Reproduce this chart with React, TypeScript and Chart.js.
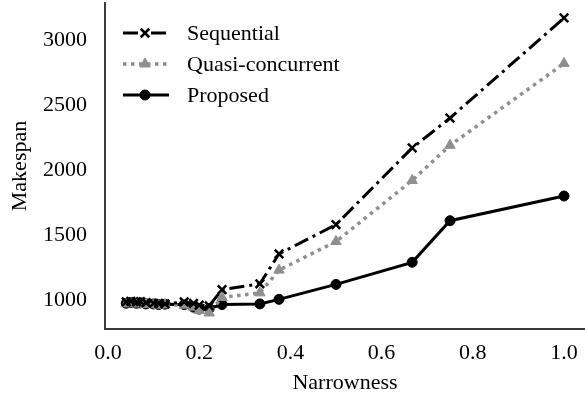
import React, { useEffect, useRef } from 'react';
import { Chart, registerables } from 'chart.js';
import { drawPoint } from 'chart.js/helpers';

Chart.register(...registerables);

const narrowness = [0.04, 0.05, 0.0625, 0.0714, 0.0833, 0.1, 0.111, 0.125, 0.167, 0.1875, 0.2, 0.222, 0.25, 0.333, 0.375, 0.5, 0.667, 0.75, 1.0];
const sequential = [985, 990, 985, 988, 980, 975, 975, 970, 985, 975, 960, 955, 1080, 1125, 1355, 1580, 2170, 2400, 3170];
const quasiConcurrent = [970, 975, 970, 972, 965, 965, 960, 962, 960, 945, 920, 900, 1020, 1055, 1230, 1450, 1920, 2190, 2820];
const proposed = [975, 980, 975, 978, 970, 970, 965, 968, 965, 945, 930, 935, 965, 970, 1005, 1120, 1290, 1610, 1800];
const seriesNames = ['Sequential', 'Quasi-concurrent', 'Proposed'];
const xTickValues = [0, 0.2, 0.4, 0.6, 0.8, 1.0];
const yTickValues = [1000, 1500, 2000, 2500, 3000];

const FONT = '"Liberation Serif", "Times New Roman", serif';
const FS = 22;

const toPoints = (ys: number[]) => narrowness.map((x, i) => ({ x, y: ys[i] }));

const legendPlugin = {
  id: 'insideLegend',
  afterDraw(chart: any) {
    const ctx = chart.ctx;
    const rows = [33, 64, 95];
    const x1 = 123;
    const x2 = 169;
    const mx = 145;
    const tx = 187;
    chart.data.datasets.forEach((ds: any, i: number) => {
      const y = rows[i];
      ctx.save();
      ctx.strokeStyle = ds.borderColor;
      ctx.lineWidth = ds.borderWidth;
      ctx.setLineDash(ds.borderDash || []);
      ctx.beginPath();
      ctx.moveTo(x1, y);
      ctx.lineTo(x2, y);
      ctx.stroke();
      ctx.setLineDash([]);
      ctx.fillStyle = ds.pointBackgroundColor;
      ctx.strokeStyle = ds.pointBorderColor;
      ctx.lineWidth = ds.pointBorderWidth;
      drawPoint(ctx, { pointStyle: ds.pointStyle, radius: ds.pointRadius, rotation: 0, borderWidth: ds.pointBorderWidth }, mx, y);
      ctx.fillStyle = '#000';
      ctx.font = `${FS}px ${FONT}`;
      ctx.textAlign = 'left';
      ctx.textBaseline = 'middle';
      ctx.fillText(seriesNames[i], tx, y + 1);
      ctx.restore();
    });
  },
};

export default function App() {
  const ref = useRef<HTMLCanvasElement | null>(null);
  useEffect(() => {
    document.body.style.margin = '0';
    const canvas = ref.current!;
    const chart = new Chart(canvas, {
      type: 'line',
      data: {
        datasets: [
          {
            label: seriesNames[0],
            data: toPoints(sequential),
            borderColor: '#000',
            borderWidth: 3,
            borderDash: [15, 5, 3, 5],
            pointStyle: 'crossRot',
            pointRadius: 6,
            pointBorderWidth: 2.5,
            pointBorderColor: '#000',
            pointBackgroundColor: '#000',
            fill: false,
          },
          {
            label: seriesNames[1],
            data: toPoints(quasiConcurrent),
            borderColor: '#8f8f8f',
            borderWidth: 3.5,
            borderDash: [3.5, 4.5],
            pointStyle: 'triangle',
            pointRadius: 6,
            pointBorderWidth: 1,
            pointBorderColor: '#8f8f8f',
            pointBackgroundColor: '#8f8f8f',
            fill: false,
          },
          {
            label: seriesNames[2],
            data: toPoints(proposed),
            borderColor: '#000',
            borderWidth: 3,
            pointStyle: 'circle',
            pointRadius: 5,
            pointBorderWidth: 1,
            pointBorderColor: '#000',
            pointBackgroundColor: '#000',
            fill: false,
          },
        ],
      },
      options: {
        responsive: false,
        animation: false,
        events: [],
        layout: { autoPadding: false, padding: { top: 3, right: 0, bottom: 0, left: 0 } },
        plugins: { legend: { display: false }, tooltip: { enabled: false } },
        scales: {
          x: {
            type: 'linear',
            min: -0.0066,
            max: 1.046,
            afterBuildTicks: (s: any) => { s.ticks = xTickValues.map((v) => ({ value: v })); },
            afterFit: (s: any) => { s.height = 69; s.paddingLeft = 0; s.paddingRight = 0; },
            grid: { display: false, drawTicks: false },
            border: { display: true, color: '#3a3a3a', width: 2 },
            ticks: {
              color: '#000',
              font: { family: FONT, size: FS },
              padding: 11,
              maxRotation: 0,
              callback: (v: any) => Number(v).toFixed(1),
            },
            title: {
              display: true,
              text: 'Narrowness',
              color: '#000',
              font: { family: FONT, size: FS },
              padding: { top: 0, bottom: 2 },
            },
          },
          y: {
            type: 'linear',
            min: 777,
            max: 3285,
            afterBuildTicks: (s: any) => { s.ticks = yTickValues.map((v) => ({ value: v })); },
            afterFit: (s: any) => { s.width = 105; s.paddingTop = 0; s.paddingBottom = 0; },
            grid: { display: false, drawTicks: false },
            border: { display: true, color: '#3a3a3a', width: 2 },
            ticks: {
              color: '#000',
              font: { family: FONT, size: FS },
              padding: 18,
              callback: (v: any) => String(v),
            },
            title: {
              display: true,
              text: 'Makespan',
              color: '#000',
              font: { family: FONT, size: FS },
              padding: { top: 7, bottom: 0 },
            },
          },
        },
      },
      plugins: [legendPlugin],
    });
    return () => chart.destroy();
  }, []);
  return (
    <div style={{ position: 'absolute', left: 0, top: 0, width: 585, height: 398 }}>
      <canvas ref={ref} width={585} height={398} />
    </div>
  );
}
